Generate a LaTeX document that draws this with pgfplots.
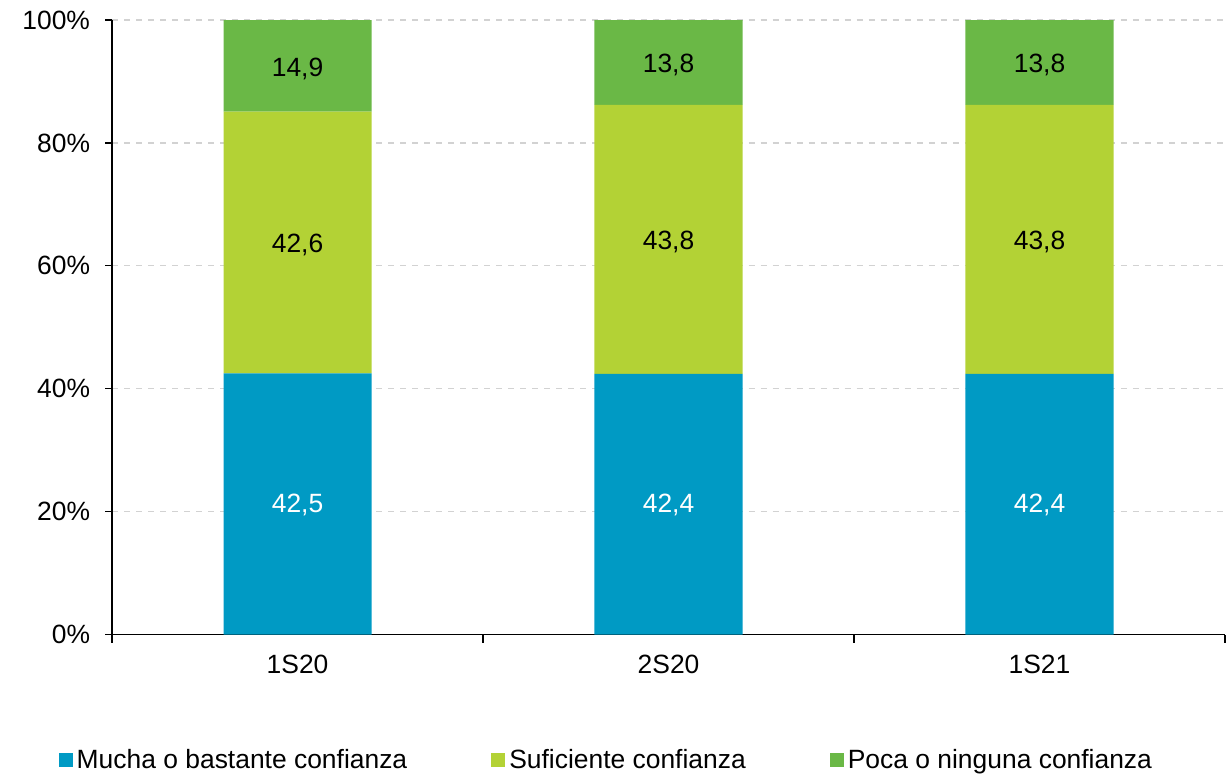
\documentclass[border=0pt]{standalone}
\usepackage{fontspec}
\setmainfont{Liberation Sans}
\usepackage{pgfplots}
\pgfplotsset{compat=1.18}
\definecolor{cblue}{HTML}{009AC4}
\definecolor{cyel}{HTML}{B3D235}
\definecolor{cgreen}{HTML}{6AB846}
\begin{document}
\begin{tikzpicture}[font=\fontsize{13.2}{15.5}\selectfont]
\pgfplotsset{
  common/.style={
    scale only axis, width=556pt, height=307pt,
    xmin=-0.5, xmax=2.5, ymin=0, ymax=100,
  }
}
\begin{axis}[common, name=main,
  ybar stacked, bar width=74pt,
  axis lines=left, axis line style={line width=0.6pt, -},
  xtick={0,1,2}, xticklabels={1S20,2S20,1S21},
  major x tick style={draw=none},
  minor xtick={-0.5,0.5,1.5,2.5},
  minor x tick style={line width=0.6pt, black},
  minor tick length=4pt,
  ytick={0,20,40,60,80,100},
  yticklabels={0\%,20\%,40\%,60\%,80\%,100\%},
  major tick length=3.5pt,
  y tick style={line width=0.6pt, black},
  tick align=outside,
  ymajorgrids, grid style={gray!35, dashed, line width=0.6pt},
  xticklabel style={yshift=-3pt},
  yticklabel style={xshift=-4pt},
  legend style={at={(0.445,-0.205)}, anchor=center, draw=none, legend columns=3,
    /tikz/every even column/.append style={column sep=40pt},
    font=\fontsize{13.2}{15.5}\selectfont},
  legend image code/.code={\fill[#1] (0pt,-3.5pt) rectangle (7pt,3.5pt);},
]
\addplot[fill=cblue, draw=none] coordinates {(0,42.5) (1,42.4) (2,42.4)};
\addplot[fill=cyel, draw=none] coordinates {(0,42.6) (1,43.8) (2,43.8)};
\addplot[fill=cgreen, draw=none] coordinates {(0,14.9) (1,13.8) (2,13.8)};
\legend{Mucha o bastante confianza, Suficiente confianza, Poca o ninguna confianza}
\end{axis}
\begin{axis}[common, hide axis]
\addplot[draw=none, mark=none, nodes near coords, point meta=explicit symbolic,
  every node near coord/.style={anchor=center, text=white}]
  table[meta=label] {
x y label
0 21.0 42,5
1 21.0 42,4
2 21.0 42,4
};
\addplot[draw=none, mark=none, nodes near coords, point meta=explicit symbolic,
  every node near coord/.style={anchor=center, text=black}]
  table[meta=label] {
x y label
0 63.4 42,6
1 63.9 43,8
2 63.9 43,8
0 92.0 14,9
1 92.7 13,8
2 92.7 13,8
};
\end{axis}
\path ([xshift=-56pt,yshift=-70.5pt]main.south west) rectangle ([xshift=0.5pt,yshift=10pt]main.north east);
\end{tikzpicture}
\end{document}
